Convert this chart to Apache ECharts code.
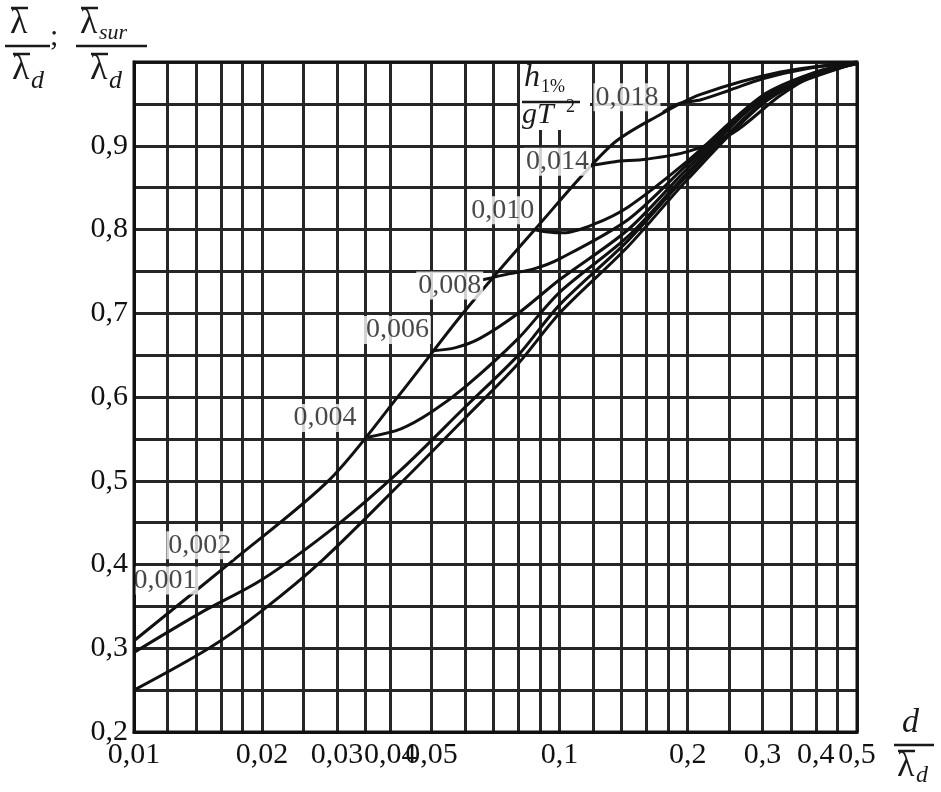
<!DOCTYPE html>
<html><head><meta charset="utf-8">
<script src="https://cdn.jsdelivr.net/npm/echarts@6/dist/echarts.min.js"></script>
<style>html,body{margin:0;padding:0;background:#fff}#c{width:941px;height:792px}</style>
</head><body><div id="c"></div>
<script>
// axis values
const xTickLabels = [0.01, 0.02, 0.03, 0.04, 0.05, 0.1, 0.2, 0.3, 0.4, 0.5];
const xGridValues = [0.01, 0.012, 0.014, 0.016, 0.018, 0.02, 0.025, 0.03, 0.035, 0.04, 0.05, 0.06, 0.07, 0.08, 0.09, 0.1, 0.12, 0.14, 0.16, 0.18, 0.2, 0.25, 0.3, 0.35, 0.4, 0.45, 0.5];
const yTickLabels = [0.2, 0.3, 0.4, 0.5, 0.6, 0.7, 0.8, 0.9];

// curves: [d/λd, λ/λd]
const curveLow = [[0.01,0.25],[0.015,0.30],[0.02,0.345],[0.0277,0.405],[0.0429,0.50],[0.06,0.575],[0.08,0.64],[0.1,0.70],[0.145,0.78],[0.2,0.86],[0.3,0.95],[0.4,0.985],[0.5,0.998]];
const curveMid = [[0.01,0.295],[0.0143,0.342],[0.02,0.382],[0.03,0.447],[0.0424,0.513],[0.06,0.588],[0.08,0.65],[0.1,0.71],[0.145,0.787],[0.2,0.865],[0.3,0.952],[0.4,0.986],[0.5,0.998]];
const curveEnvelope = [[0.01,0.309],[0.0171,0.405],[0.0289,0.502],[0.0418,0.601],[0.0593,0.70],[0.0875,0.80],[0.1326,0.901],[0.1721,0.937],[0.2138,0.961],[0.3304,0.988],[0.5,1.0]];
const curve004 = [[0.0354,0.552],[0.0424,0.562],[0.05,0.582],[0.06,0.612],[0.08,0.67],[0.1,0.725],[0.145,0.792],[0.2,0.868],[0.3,0.955],[0.5,0.999]];
const curve006 = [[0.05,0.655],[0.057,0.659],[0.065,0.67],[0.08,0.70],[0.1,0.74],[0.145,0.80],[0.2,0.873],[0.3,0.957],[0.5,0.999]];
const curve008 = [[0.066,0.74],[0.076,0.747],[0.087,0.753],[0.1,0.765],[0.145,0.812],[0.2,0.878],[0.3,0.958],[0.5,0.999]];
const curve010 = [[0.087,0.80],[0.094,0.797],[0.102,0.796],[0.12,0.806],[0.145,0.827],[0.2,0.882],[0.3,0.96],[0.4,0.988],[0.5,1.0]];
const curve014 = [[0.12,0.877],[0.135,0.881],[0.16,0.884],[0.2,0.893],[0.255,0.915],[0.33,0.96],[0.4,0.985],[0.5,1.0]];
const curve018 = [[0.175,0.94],[0.19,0.95],[0.215,0.955],[0.25,0.966],[0.3,0.98],[0.38,0.992],[0.5,1.0]];

const curveLabels = [
  [0.144, 0.958, '0,018'],
  [0.0989, 0.881, '0,014'],
  [0.0735, 0.823, '0,010'],
  [0.0552, 0.733, '0,008'],
  [0.0416, 0.680, '0,006'],
  [0.0281, 0.575, '0,004'],
  [0.01428, 0.423, '0,002'],
  [0.01182, 0.381, '0,001']
];

const serif = '"Liberation Serif", "DejaVu Serif", serif';
const ink = '#111';
const chart = echarts.init(document.getElementById('c'), null, {renderer: 'canvas'});
const curves = [curveLow, curveMid, curveEnvelope, curve004, curve006, curve008, curve010, curve014, curve018];
const fmt = v => String(+v.toFixed(3)).replace('.', ',');

const series = curves.map(d => ({
  type: 'line', data: d, smooth: 0.3, symbol: 'none', silent: true,
  lineStyle: {color: ink, width: 3}, z: 3
}));
series.push({
  type: 'scatter', data: curveLabels, symbolSize: 0, silent: true, z: 5,
  label: {show: true, position: 'inside', formatter: p => p.value[2],
    fontFamily: serif, fontSize: 28, color: '#1a1a1a', backgroundColor: '#fff', padding: [0, 2, 0, 2]}
});

// lambda with overbar
function lam(x, y, size) {
  return [
    {type: 'text', x: x, y: y, style: {text: 'λ', font: size + 'px ' + serif, fill: '#1a1a1a'}},
    {type: 'line', shape: {x1: x + 1, y1: y + 2, x2: x + size * 0.5, y2: y + 2}, style: {stroke: '#1a1a1a', lineWidth: 2.5}}
  ];
}
function t(x, y, s, font) { return {type: 'text', x: x, y: y, style: {text: s, font: font, fill: '#1a1a1a'}}; }
function ln(x1, y1, x2, y2) { return {type: 'line', shape: {x1: x1, y1: y1, x2: x2, y2: y2}, style: {stroke: '#1a1a1a', lineWidth: 2.5}}; }

const gfx = [
  {type: 'rect', shape: {x: 134, y: 62, width: 723, height: 670}, style: {fill: 'none', stroke: ink, lineWidth: 3}, z: 10},
  // y title: λ/λd ; λsur/λd
  ...lam(10, 6, 36),
  ln(5, 46, 50, 46),
  ...lam(12, 52, 36),
  t(31, 68, 'd', 'italic 26px ' + serif),
  t(50, 22, ';', '30px ' + serif),
  ...lam(80, 6, 36),
  t(99, 22, 'sur', 'italic 22px ' + serif),
  ln(76, 46, 147, 46),
  ...lam(90, 52, 36),
  t(109, 68, 'd', 'italic 26px ' + serif),
  // x title: d/λd
  t(902, 706, 'd', 'italic 34px ' + serif),
  ln(894, 745, 934, 745),
  ...lam(897, 749, 36),
  t(916, 764, 'd', 'italic 24px ' + serif),
  // h1%/gT2 header
  {type: 'rect', shape: {x: 520, y: 64, width: 70, height: 66}, style: {fill: '#fff'}, z: 4},
  Object.assign(t(524, 62, 'h', 'italic 32px ' + serif), {z: 6}),
  Object.assign(t(541, 78, '1%', '18px ' + serif), {z: 6}),
  Object.assign(ln(522, 102, 580, 102), {z: 6}),
  Object.assign(t(522, 100, 'gT', 'italic 30px ' + serif), {z: 6}),
  Object.assign(t(566, 98, '2', '18px ' + serif), {z: 6})
];

chart.setOption({
  animation: false,
  backgroundColor: '#fff',
  grid: {left: 134, right: 84, top: 62, bottom: 60},
  xAxis: {
    type: 'log', logBase: 10, min: 0.01, max: 0.5,
    axisLine: {show: true, lineStyle: {color: ink, width: 3}},
    axisTick: {show: false, customValues: xGridValues},
    splitLine: {show: true, lineStyle: {color: '#262626', width: 3}},
    axisLabel: {customValues: xTickLabels, formatter: fmt, fontFamily: serif, fontSize: 30, color: '#111', margin: 8, hideOverlap: false}
  },
  yAxis: {
    type: 'value', min: 0.2, max: 1.0, interval: 0.05,
    axisLine: {show: true, lineStyle: {color: ink, width: 3}},
    axisTick: {show: false},
    splitLine: {show: true, lineStyle: {color: '#262626', width: 3}},
    axisLabel: {customValues: yTickLabels, formatter: v => v.toFixed(1).replace('.', ','), fontFamily: serif, fontSize: 30, color: '#111', margin: 6}
  },
  graphic: gfx,
  series: series
});
</script></body></html>
